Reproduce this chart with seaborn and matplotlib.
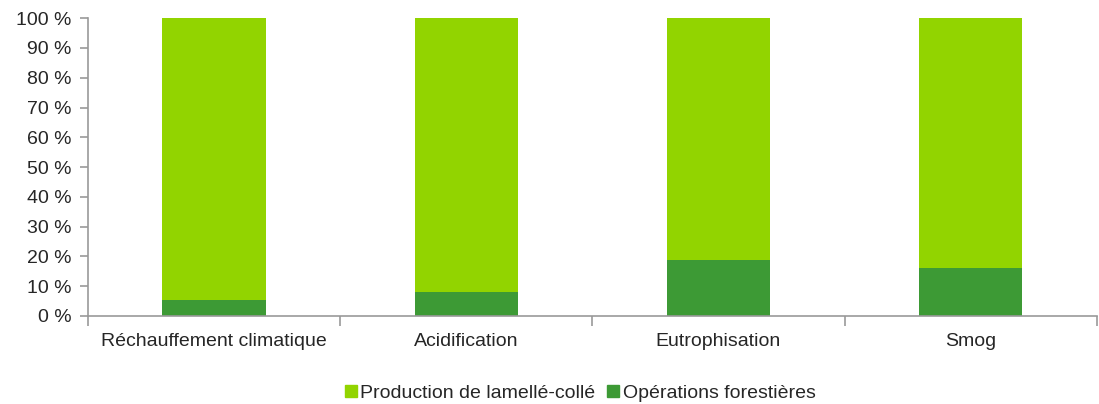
import seaborn as sns
import pandas as pd
import matplotlib.pyplot as plt
from matplotlib.ticker import FixedLocator
from matplotlib.patches import Patch

categories = ['Réchauffement climatique', 'Acidification', 'Eutrophisation', 'Smog']
forestieres = [5.4, 8.0, 18.8, 16.1]
lamelle = [100 - v for v in forestieres]

light_green = '#92D400'
dark_green = '#3D9A35'

df = pd.DataFrame({'Catégorie': categories,
                   'Production de lamellé-collé': lamelle,
                   'Opérations forestières': forestieres})
df['Total'] = df['Production de lamellé-collé'] + df['Opérations forestières']

sns.set_style('white')
plt.rcParams['font.family'] = ['Liberation Sans', 'DejaVu Sans']

fig, ax = plt.subplots(figsize=(10.99, 4.04), dpi=100)
fig.subplots_adjust(left=0.080, right=0.998, top=0.955, bottom=0.218)

# total bar (light) drawn first, then the bottom part on top of it
sns.barplot(data=df, x='Catégorie', y='Total', color=light_green, width=0.41,
            saturation=1, linewidth=0, ax=ax)
sns.barplot(data=df, x='Catégorie', y='Opérations forestières', color=dark_green,
            width=0.41, saturation=1, linewidth=0, ax=ax)

ax.set_ylim(0, 100)
ax.set_xlim(-0.5, len(categories) - 0.5)
ax.set_yticks(range(0, 101, 10))
ax.set_yticklabels([f'{v} %' for v in range(0, 101, 10)], fontsize=14)
ax.tick_params(axis='x', which='major', length=0, labelsize=14, pad=12)
ax.xaxis.set_minor_locator(FixedLocator([i + 0.5 for i in range(-1, len(categories))]))
ax.tick_params(axis='x', which='minor', bottom=True, length=7, width=1.2,
               color='#999999', direction='out')
ax.tick_params(axis='y', left=True, length=6, width=1.2, color='#999999',
               direction='out', pad=6)
ax.set_xlabel('')
ax.set_ylabel('')

for side in ['top', 'right']:
    ax.spines[side].set_visible(False)
for side in ['left', 'bottom']:
    ax.spines[side].set_color('#999999')
    ax.spines[side].set_linewidth(1.2)

handles = [Patch(color=light_green, label='Production de lamellé-collé'),
           Patch(color=dark_green, label='Opérations forestières')]
fig.legend(handles=handles, loc='center', bbox_to_anchor=(0.528, 0.027), ncol=2,
           frameon=False, fontsize=14, handlelength=0.6, handleheight=0.6,
           handletextpad=0.2, columnspacing=0.6)

plt.savefig('out.png', dpi=100)
